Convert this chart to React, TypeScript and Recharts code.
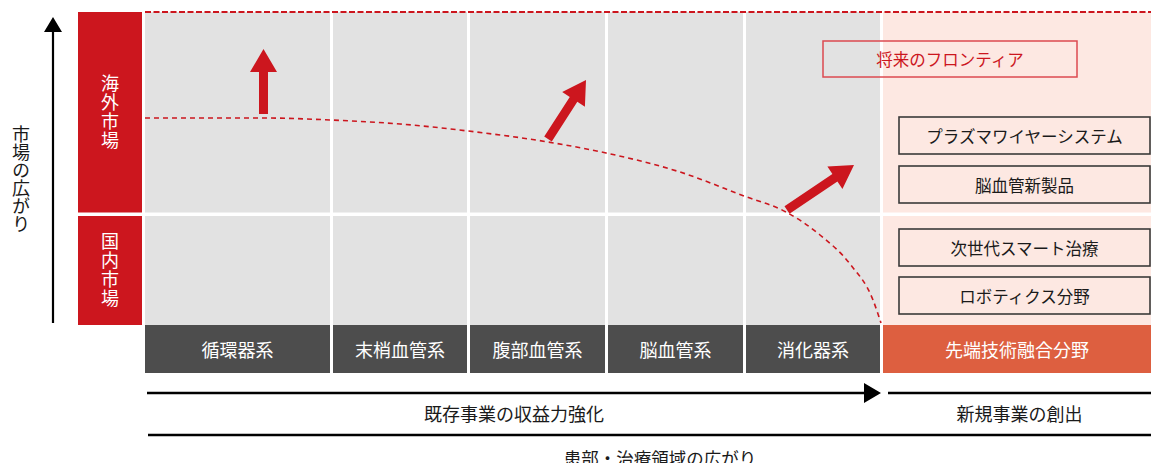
import React from 'react';
import { ComposedChart, XAxis, YAxis, Line, ReferenceArea, ReferenceLine } from 'recharts';

// ---- data ----
const MARKETS = ['海外市場', '国内市場'];
const FIELDS = ['循環器系', '末梢血管系', '腹部血管系', '脳血管系', '消化器系', '先端技術融合分野'];
const FRONTIER_TITLE = '将来のフロンティア';
const FRONTIER_ITEMS = ['プラズマワイヤーシステム', '脳血管新製品', '次世代スマート治療', 'ロボティクス分野'];
const STAGES = ['既存事業の収益力強化', '新規事業の創出'];
const Y_TITLE = '市場の広がり';
const X_TITLE = '患部・治療領域の広がり';

// dashed boundary of the current business (picture units)
const CURVE_X = [145, 263, 331, 400, 468, 548, 606, 680, 744, 786, 820, 850, 873, 881];
const CURVE_Y = [118, 118, 120, 124, 131, 142, 153, 172, 196, 212, 235, 264, 300, 323];

// growth arrows, tail -> tip
const GROWTH_FROM = [{ x: 263.5, y: 114 }, { x: 548, y: 139 }, { x: 787, y: 210 }];
const GROWTH_TO = [{ x: 263.5, y: 49 }, { x: 586, y: 80 }, { x: 854, y: 165 }];

// ---- layout ----
const W = 1151;
const H = 463;
const FONT = '"Noto Sans CJK JP", "Noto Sans", sans-serif';
const RED = '#cc161e';
const COL_LEFT = [145, 333, 470, 608, 746, 883];
const COL_RIGHT = [330, 467, 605, 743, 880, 1151];
const ROW_TOP = [12, 216];
const ROW_BOTTOM = [212.5, 325];
const BAR = { top: 325, bottom: 373 };
const LABEL_COL = { left: 78, right: 142 };
const ITEM_BOX = { left: 899, right: 1150, tops: [117, 166, 229, 277], h: 37 };
const TITLE_BOX = { left: 823, right: 1077, top: 41, bottom: 77 };

const chartData = CURVE_X.map((x, i) => ({ x, y: CURVE_Y[i] }));

type Box = { x: number; y: number; width: number; height: number };

const fillRect = (fill: string) => (p: Box) => (
  <rect x={p.x} y={p.y} width={p.width} height={p.height} fill={fill} />
);

const boxWithText = (
  text: string,
  opts: { fill?: string; stroke?: string; strokeWidth?: number; color: string; size: number; dy?: number }
) => (p: Box) => (
  <g>
    <rect
      x={p.x}
      y={p.y}
      width={p.width}
      height={p.height}
      fill={opts.fill ?? 'none'}
      stroke={opts.stroke ?? 'none'}
      strokeWidth={opts.strokeWidth ?? 0}
    />
    <text
      x={p.x + p.width / 2}
      y={p.y + p.height / 2 + (opts.dy ?? 0)}
      textAnchor="middle"
      dominantBaseline="central"
      fill={opts.color}
      fontSize={opts.size}
      fontFamily={FONT}
    >
      {text}
    </text>
  </g>
);

// one vertical text element (writing-mode) instead of stacked single characters
const verticalText = (
  text: string,
  opts: { fill?: string; color: string; size: number; spacing: number }
) => (p: Box) => (
  <g>
    {opts.fill && <rect x={p.x} y={p.y} width={p.width} height={p.height} fill={opts.fill} />}
    <text
      x={p.x + p.width / 2}
      y={p.y + p.height / 2}
      textAnchor="middle"
      fill={opts.color}
      fontSize={opts.size}
      fontFamily={FONT}
      style={{ writingMode: 'vertical-rl', letterSpacing: opts.spacing }}
    >
      {text}
    </text>
  </g>
);

const arrowShape = (color: string, shaft: number, headLen: number, headW: number) => (p: any) => {
  const { x1, y1, x2, y2 } = p;
  const dx = x2 - x1;
  const dy = y2 - y1;
  const len = Math.hypot(dx, dy) || 1;
  const ux = dx / len;
  const uy = dy / len;
  const nx = -uy;
  const ny = ux;
  const bx = x2 - ux * headLen;
  const by = y2 - uy * headLen;
  const pts = [
    [x1 + (nx * shaft) / 2, y1 + (ny * shaft) / 2],
    [bx + (nx * shaft) / 2, by + (ny * shaft) / 2],
    [bx + (nx * headW) / 2, by + (ny * headW) / 2],
    [x2, y2],
    [bx - (nx * headW) / 2, by - (ny * headW) / 2],
    [bx - (nx * shaft) / 2, by - (ny * shaft) / 2],
    [x1 - (nx * shaft) / 2, y1 - (ny * shaft) / 2],
  ];
  return <polygon points={pts.map((q) => q.join(',')).join(' ')} fill={color} />;
};

export default function App() {
  return (
    <div style={{ position: 'absolute', left: 0, top: 0, width: W, height: H, background: '#fff', fontFamily: FONT }}>
      <ComposedChart width={W} height={H} data={chartData} margin={{ top: 0, right: 0, bottom: 0, left: 0 }}>
        <XAxis type="number" dataKey="x" domain={[0, W]} allowDataOverflow hide />
        <YAxis type="number" domain={[0, H]} allowDataOverflow reversed hide />

        {/* grid cells: gray for existing fields, pink for the new field */}
        {ROW_TOP.map((top, r) =>
          COL_LEFT.map((left, c) => (
            <ReferenceArea
              key={`cell-${r}-${c}`}
              x1={left}
              x2={COL_RIGHT[c]}
              y1={top}
              y2={ROW_BOTTOM[r]}
              shape={fillRect(c === COL_LEFT.length - 1 ? '#fde8e2' : '#e2e2e2')}
            />
          ))
        )}

        {/* market labels */}
        {MARKETS.map((m, r) => (
          <ReferenceArea
            key={m}
            x1={LABEL_COL.left}
            x2={LABEL_COL.right}
            y1={ROW_TOP[r]}
            y2={ROW_BOTTOM[r]}
            shape={verticalText(m, { fill: RED, color: '#fff', size: 18, spacing: 1 })}
          />
        ))}

        {/* field bars */}
        {FIELDS.map((f, c) => (
          <ReferenceArea
            key={f}
            x1={COL_LEFT[c]}
            x2={COL_RIGHT[c]}
            y1={BAR.top}
            y2={BAR.bottom}
            shape={boxWithText(f, { fill: c === FIELDS.length - 1 ? '#dd5f40' : '#4d4d4d', color: '#fff', size: 18 })}
          />
        ))}

        {/* frontier title + items */}
        <ReferenceArea
          x1={TITLE_BOX.left}
          x2={TITLE_BOX.right}
          y1={TITLE_BOX.top}
          y2={TITLE_BOX.bottom}
          shape={boxWithText(FRONTIER_TITLE, { stroke: '#dc4a50', strokeWidth: 1.5, color: RED, size: 16.5 })}
        />
        {FRONTIER_ITEMS.map((t, i) => (
          <ReferenceArea
            key={t}
            x1={ITEM_BOX.left}
            x2={ITEM_BOX.right}
            y1={ITEM_BOX.tops[i]}
            y2={ITEM_BOX.tops[i] + ITEM_BOX.h}
            shape={boxWithText(t, { stroke: '#3a3a3a', strokeWidth: 1.6, color: '#1a1a1a', size: 16.5 })}
          />
        ))}

        {/* axis titles and stage labels */}
        <ReferenceArea x1={10} x2={32} y1={120} y2={238} shape={verticalText(Y_TITLE, { color: '#1a1a1a', size: 18, spacing: 0 })} />
        <ReferenceArea x1={147} x2={881} y1={400} y2={426} shape={boxWithText(STAGES[0], { color: '#1a1a1a', size: 18 })} />
        <ReferenceArea x1={888} x2={1151} y1={400} y2={426} shape={boxWithText(STAGES[1], { color: '#1a1a1a', size: 18 })} />
        <ReferenceArea x1={560} x2={760} y1={446} y2={463} shape={boxWithText(X_TITLE, { color: '#1a1a1a', size: 17.5, dy: 3 })} />

        {/* top dashed border */}
        <ReferenceLine
          segment={[{ x: 145, y: 12 }, { x: W, y: 12 }]}
          stroke={RED}
          strokeWidth={2}
          strokeDasharray="6 2.5"
        />

        {/* bottom rules */}
        <ReferenceLine segment={[{ x: 888, y: 393 }, { x: W, y: 393 }]} stroke="#000" strokeWidth={2.6} />
        <ReferenceLine segment={[{ x: 148, y: 435 }, { x: W, y: 435 }]} stroke="#000" strokeWidth={2.6} />

        {/* axis arrows */}
        <ReferenceLine segment={[{ x: 53, y: 323 }, { x: 53, y: 17 }]} shape={arrowShape('#000', 2.2, 15, 18)} />
        <ReferenceLine segment={[{ x: 147, y: 393 }, { x: 881, y: 393 }]} shape={arrowShape('#000', 2.6, 17, 20)} />

        {/* boundary of current business */}
        <Line
          type="monotone"
          dataKey="y"
          stroke={RED}
          strokeWidth={1.6}
          strokeDasharray="5 4"
          dot={false}
          activeDot={false}
          isAnimationActive={false}
        />

        {/* growth arrows */}
        {GROWTH_FROM.map((from, i) => (
          <ReferenceLine
            key={`g-${i}`}
            segment={[from, GROWTH_TO[i]]}
            shape={arrowShape(RED, 9, 23, 27)}
          />
        ))}
      </ComposedChart>
    </div>
  );
}
